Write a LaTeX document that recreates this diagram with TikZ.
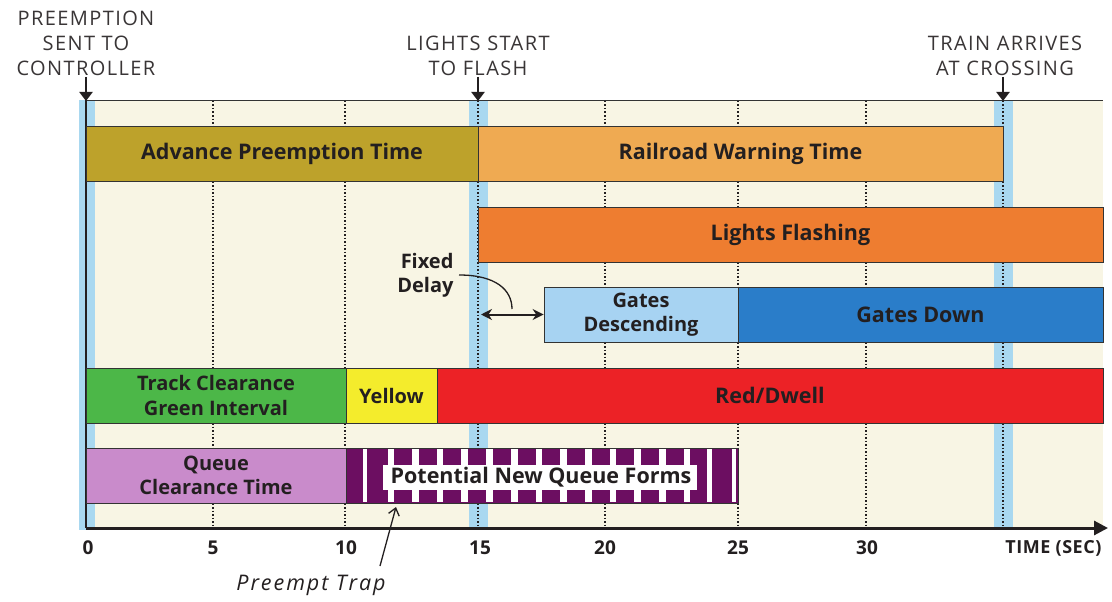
\documentclass[tikz,border=0pt]{standalone}
\usepackage{fontspec}
\setmainfont{Open Sans}
\usetikzlibrary{arrows.meta}
\definecolor{cream}{HTML}{F8F5E4}
\definecolor{band}{HTML}{A9D8F0}
\definecolor{ink}{HTML}{231F20}
\definecolor{barline}{HTML}{333333}
\definecolor{olivebar}{HTML}{BDA22B}
\definecolor{railorange}{HTML}{EFAA52}
\definecolor{flashorange}{HTML}{EE7D30}
\definecolor{gateslight}{HTML}{A7D3F2}
\definecolor{gatesdown}{HTML}{2A7DC9}
\definecolor{greenbar}{HTML}{4CB748}
\definecolor{yellowbar}{HTML}{F4EC2C}
\definecolor{redbar}{HTML}{EC2226}
\definecolor{queuebar}{HTML}{C98BCB}
\definecolor{trappurple}{HTML}{6C0E61}
\begin{document}
\begin{tikzpicture}[x=1pt,y=-1pt,
  bar/.style={draw=barline, line width=0.8pt, inner sep=0pt, minimum height=55pt,
    align=center, text=ink, font={\bfseries\fontsize{20}{24.5}\selectfont}},
  widebar/.style={bar, font={\bfseries\fontsize{21.5}{25}\selectfont}},
  header/.style={align=center, text=ink!90, font={\fontsize{20}{25}\selectfont\addfontfeatures{LetterSpace=7}}},
  ticklabel/.style={text=ink, font={\bfseries\fontsize{19}{22}\selectfont}},
  grid/.style={line width=1.7pt, dash pattern=on 1.5pt off 2pt, ink},
  bandstyle/.style={fill=band},
  downarrow/.style={line width=2.4pt, ink, -{Triangle[length=9pt,width=13pt]}},
  callout/.style={line width=1.3pt, ink}]
\useasboundingbox (0,0) rectangle (1112,602);
\fill[white] (0,0) rectangle (1112,602);
% chart area
\fill[cream] (86,100) rectangle (1103,528);
% blue time bands
\fill[bandstyle] (79,100) rectangle (95,530);
\fill[bandstyle] (469,100) rectangle (488,530);
\fill[bandstyle] (994,100) rectangle (1013,530);
% dotted grid lines
\foreach \gx in {213,345,478,605,738,866,1003}
  \draw[grid] (\gx,101) -- (\gx,527);
% frame
\draw[barline, line width=0.9pt] (86,100) -- (1103,100);
\draw[ink, line width=1.6pt] (86,100) -- (86,528);
% axis
\coordinate (axO) at (86,528);
\coordinate (axE) at (1108,528);
\draw[ink, line width=3pt, -{Triangle[length=14pt,width=14pt]}] (axO) -- (axE);

% bars
\node[widebar, fill=olivebar, minimum width=392pt] (apt) at (282,154) {Advance Preemption Time};
\node[widebar, fill=railorange, minimum width=525pt] (rwt) at (740.5,154) {Railroad Warning Time};
\node[widebar, fill=flashorange, minimum width=625pt] (lf) at (790.5,234.5) {Lights Flashing};
\node[bar, fill=gateslight, minimum width=194pt] (gdesc) at (641,314.5) {Gates\\Descending};
\node[widebar, fill=gatesdown, minimum width=365pt] (gdown) at (920.5,314.5) {Gates Down};
\node[bar, fill=greenbar, minimum width=260pt] (tcg) at (216,395.5) {Track Clearance\\Green Interval};
\node[bar, fill=yellowbar, minimum width=91pt] (yel) at (391.5,395.5) {Yellow};
\node[widebar, fill=redbar, minimum width=666pt] (red) at (770,395.5) {Red/Dwell};
\node[bar, fill=queuebar, minimum width=260pt] (qct) at (216,475.5) {Queue\\Clearance Time};
\node[bar, fill=trappurple, minimum width=392pt] (pnq) at (542,475.5) {};
% pattern of the potential queue bar
\fill[white] (363,449) rectangle (367,502);
\fill[white] (388,449) rectangle (690,502);
\fill[white] (707,449) rectangle (712,502);
\fill[white] (732,449) rectangle (736,502);
\foreach \k in {0,...,11} {
  \fill[trappurple] ({394+24.7*\k},449) rectangle ({412+24.7*\k},465);
  \fill[trappurple] ({394+24.7*\k},490) rectangle ({412+24.7*\k},502);
}
\fill[white] (383,465) rectangle (697,490);
\draw[barline, line width=0.8pt] (346,448) rectangle (738,503);
\node[text=ink, font={\bfseries\fontsize{21.5}{25}\selectfont}] (pnqt) at (541,477) {Potential New Queue Forms};

% headers
\node[header] (h1) at (86,43) {PREEMPTION\\SENT TO\\CONTROLLER};
\node[header] (h2) at (478,55.5) {LIGHTS START\\TO FLASH};
\node[header] (h3) at (1005,55.5) {TRAIN ARRIVES\\AT CROSSING};
\coordinate (a1s) at (86,77); \coordinate (a1e) at (86,101);
\coordinate (a2s) at (478,77); \coordinate (a2e) at (478,101);
\coordinate (a3s) at (1003,77); \coordinate (a3e) at (1003,101);
\draw[downarrow] (a1s) -- (a1e);
\draw[downarrow] (a2s) -- (a2e);
\draw[downarrow] (a3s) -- (a3e);

% fixed delay
\node[anchor=east, align=right, text=ink, font={\bfseries\fontsize{20}{24}\selectfont}] (fd) at (457,275) {Fixed\\Delay};
\coordinate (fdc) at (459,275);
\coordinate (fdm) at (512,309);
\draw[callout] (fdc) .. controls (496,275) and (512,290) .. (fdm);
\coordinate (fdl) at (481,314.5);
\draw[ink, line width=2pt, {Stealth[length=11pt,width=11pt]}-{Stealth[length=11pt,width=11pt]}] (fdl) -- (gdesc.west);

% preempt trap
\node[text=ink, font={\itshape\fontsize{21.5}{25}\selectfont\addfontfeatures{LetterSpace=9}}] (pt) at (311,585) {Preempt Trap};
\coordinate (pts) at (380,566);
\coordinate (pte) at (396,507);
\draw[callout, -{Straight Barb[length=7pt,width=11pt]}] (pts) -- (pte);

% axis labels
\node[ticklabel] (t0) at (88,548) {0};
\node[ticklabel] (t5) at (213,548) {5};
\node[ticklabel] (t10) at (346,548) {10};
\node[ticklabel] (t15) at (480,548) {15};
\node[ticklabel] (t20) at (605,548) {20};
\node[ticklabel] (t25) at (738,548) {25};
\node[ticklabel] (t30) at (867,548) {30};
\node[text=ink, anchor=east, font={\bfseries\fontsize{18}{20}\selectfont\addfontfeatures{LetterSpace=3}}] (tl) at (1105,548) {TIME (SEC)};
\end{tikzpicture}
\end{document}
